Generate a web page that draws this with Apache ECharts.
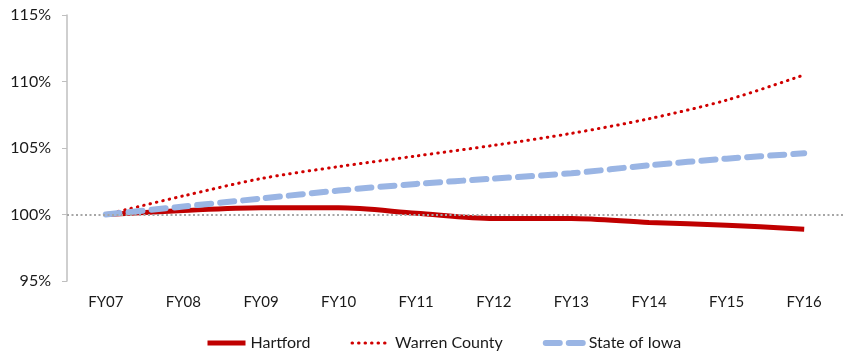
<!DOCTYPE html>
<html><head><meta charset="utf-8">
<script src="https://cdn.jsdelivr.net/npm/echarts@6/dist/echarts.min.js"></script>
<style>html,body{margin:0;padding:0;background:#fff}#c{width:845px;height:356px}</style>
</head><body><div id="c"></div>
<script>
const categories = ['FY07','FY08','FY09','FY10','FY11','FY12','FY13','FY14','FY15','FY16'];
const hartford = [100, 100.3, 100.5, 100.5, 100.1, 99.7, 99.7, 99.4, 99.2, 98.9];
const warren = [100, 101.4, 102.7, 103.6, 104.4, 105.2, 106.1, 107.2, 108.6, 110.5];
const iowa = [100, 100.6, 101.2, 101.8, 102.3, 102.7, 103.1, 103.7, 104.2, 104.6];
const yTicks = {min: 95, max: 115, interval: 5};

const chart = echarts.init(document.getElementById('c'));
const font = 'Lato, "Open Sans", sans-serif';
chart.setOption({
  animation: false,
  grid: {left: 67, right: 2, top: 15, bottom: 75},
  xAxis: {
    type: 'category', data: categories, boundaryGap: true,
    axisLine: {show: false}, axisTick: {show: false},
    axisLabel: {color: '#1a1a1a', fontSize: 15, fontFamily: font, margin: 14}
  },
  yAxis: {
    type: 'value', min: yTicks.min, max: yTicks.max, interval: yTicks.interval,
    axisLine: {show: true, lineStyle: {color: '#bfbfbf', width: 1.5}},
    axisTick: {show: true, length: 5, lineStyle: {color: '#bfbfbf'}},
    splitLine: {show: false},
    axisLabel: {color: '#1a1a1a', fontSize: 16, fontFamily: font, margin: 16, formatter: v => v + '%'}
  },
  legend: {
    bottom: 0, left: 200, itemWidth: 38, itemHeight: 10, itemGap: 40,
    itemStyle: {opacity: 0},
    textStyle: {color: '#1a1a1a', fontSize: 16, fontFamily: font},
    data: [
      {name: 'Hartford', lineStyle: {width: 5, color: '#C00000'}},
      {name: 'Warren County', lineStyle: {width: 3, color: '#D00000', type: [0.5, 6], cap: 'round'}},
      {name: 'State of Iowa', lineStyle: {width: 6, color: '#9AB5E4', type: [14, 9], cap: 'round'}}
    ]
  },
  series: [
    {name: 'Hartford', type: 'line', data: hartford, smooth: 0.3, symbol: 'none',
     lineStyle: {color: '#C00000', width: 5}, itemStyle: {color: '#C00000'},
     markLine: {silent: true, symbol: 'none', label: {show: false},
       lineStyle: {color: '#a6a6a6', type: [2, 2.5], width: 2},
       data: [{yAxis: 100}]}, z: 2},
    {name: 'Warren County', type: 'line', data: warren, smooth: 0.3, symbol: 'none',
     lineStyle: {color: '#D00000', width: 3, type: [0.5, 6], cap: 'round'}, itemStyle: {color: '#D00000'}, z: 3},
    {name: 'State of Iowa', type: 'line', data: iowa, smooth: 0.3, symbol: 'none',
     lineStyle: {color: '#9AB5E4', width: 6, type: [14, 9], cap: 'round'}, itemStyle: {color: '#9AB5E4'}, z: 4}
  ]
});
</script></body></html>
